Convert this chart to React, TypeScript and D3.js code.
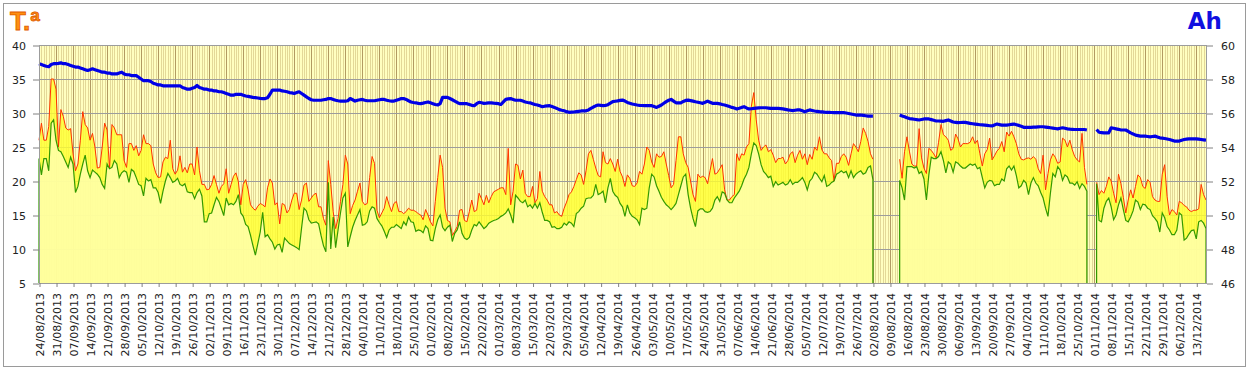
import { useEffect, useRef } from "react"
import * as d3 from "d3"

// first day of the series, one value per day after that
const startDate = "2013-08-24"

// daily maximum temperature (ºC), null = no reading
const tMax: (number | null)[] = [
  26.0, 28.5, 26.0, 26.0, 28.0, 35.0, 35.0, 33.5, 25.0, 30.5,
  29.5, 27.8, 27.5, 27.7, 24.0, 21.5, 22.5, 26.0, 30.2, 28.3,
  27.8, 26.0, 27.0, 25.0, 21.9, 22.0, 25.0, 28.5, 27.5, 21.9,
  28.3, 27.8, 26.8, 26.8, 26.8, 23.0, 22.0, 25.5, 25.5, 24.5,
  25.2, 23.7, 24.5, 26.8, 25.5, 25.5, 25.2, 22.5, 21.2, 20.5,
  20.6, 22.8, 23.5, 23.3, 26.0, 21.8, 21.0, 21.6, 23.7, 21.3,
  22.0, 21.2, 22.5, 22.5, 20.9, 25.0, 21.5, 19.5, 19.5, 18.7,
  18.8, 19.5, 20.8, 19.5, 18.2, 19.2, 19.6, 21.8, 18.2, 19.5,
  20.7, 21.2, 19.9, 16.5, 19.5, 20.2, 18.7, 16.5, 16.0, 15.7,
  16.3, 16.7, 16.5, 16.2, 19.0, 20.3, 19.7, 16.5, 16.8, 13.7,
  16.7, 16.5, 15.3, 15.8, 17.2, 18.2, 18.2, 15.8, 17.2, 19.4,
  19.7, 17.0, 17.5, 18.0, 18.2, 16.2, 16.2, 14.5, 13.5, 23.0,
  19.5, 15.5, 13.0, 14.5, 17.0, 19.5, 23.8, 22.5, 15.2, 16.4,
  17.2, 18.5, 19.7, 17.0, 16.5, 16.7, 20.5, 23.6, 22.6, 15.7,
  14.6, 15.3, 16.0, 17.7, 16.5, 15.5, 16.7, 17.0, 15.5, 15.5,
  15.2, 15.5, 16.0, 15.7, 15.7, 15.5, 15.2, 15.0, 14.3, 15.8,
  15.0, 14.0, 13.4, 17.0, 20.5, 23.8, 22.0, 16.0, 14.2, 14.0,
  12.0, 12.6, 13.3, 15.7, 15.8, 14.2, 14.0, 15.5, 17.2, 15.5,
  15.7, 18.2, 17.4, 16.5, 17.9, 16.8, 17.7, 18.4, 18.6, 18.8,
  19.0, 19.0, 18.0, 24.8, 16.5, 18.5, 22.5, 22.3, 20.3, 21.6,
  18.2, 17.7, 17.7, 19.2, 16.8, 17.4, 21.4, 18.5, 17.7, 17.2,
  16.5, 16.5, 15.3, 15.5, 15.0, 14.8, 16.0, 16.9, 18.0, 18.4,
  19.2, 20.2, 21.2, 20.9, 19.5, 21.5, 24.0, 24.5, 23.2, 21.9,
  20.8, 20.6, 24.3, 22.7, 22.5, 23.3, 22.5, 21.4, 23.2, 21.4,
  20.6, 19.2, 20.9, 20.4, 19.3, 19.2, 19.7, 21.4, 21.0, 22.5,
  25.0, 24.5, 22.8, 22.0, 24.0, 23.5, 23.6, 24.3, 22.5, 20.8,
  19.0, 19.5, 23.0, 26.5, 26.5, 24.0, 22.7, 22.0, 20.0, 18.0,
  17.0, 21.0, 20.5, 20.7, 20.5, 19.6, 21.5, 23.3, 21.0, 21.2,
  21.8, 22.4, 18.7, 17.2, 17.2, 17.7, 18.0, 24.0, 23.0, 24.0,
  23.8, 25.0, 25.5, 31.0, 33.0, 29.0, 26.0, 24.5, 25.0, 25.3,
  24.3, 24.6, 23.8, 22.7, 23.3, 23.3, 23.5, 22.5, 23.0, 24.0,
  24.3, 22.7, 23.8, 24.5, 23.2, 24.0, 22.4, 23.9, 23.2, 25.0,
  24.5, 26.5, 24.6, 24.0, 24.0, 23.4, 23.0, 20.0, 22.6, 22.6,
  23.6, 24.0, 23.5, 22.3, 24.0, 25.5, 25.0, 24.3, 25.8, 27.8,
  27.0, 25.8, 24.0, 23.2,
  null, null, null, null, null, null, null, null, null, null,
  23.2, 20.4, 24.3, 26.5, 24.4, 22.5,
  22.2, 22.2, 27.7, 23.4, 21.9, 21.1, 24.8, 24.5, 24.0, 23.4,
  25.7, 28.3, 26.8, 26.5, 26.0, 24.5, 24.8, 26.9, 26.2, 25.0,
  25.5, 25.5, 25.5, 25.7, 26.5, 25.5, 26.0, 24.0, 22.2, 24.0,
  24.6, 26.3, 23.1, 23.7, 24.4, 24.8, 25.8, 24.3, 27.2, 26.6,
  27.3, 26.5, 25.5, 24.0, 23.2, 23.1, 23.3, 23.4, 23.2, 23.6,
  23.2, 21.8, 21.1, 23.8, 18.7, 21.1, 23.1, 24.0, 23.5, 22.6,
  22.8, 26.3, 26.0, 25.0, 26.0, 24.6, 23.6, 23.1, 22.8, 27.0,
  22.0, 19.5,
  null, null, null,
  19.8, 18.0, 18.6, 18.2, 19.2,
  20.6, 20.0, 18.2, 16.8, 21.0, 19.6, 17.6, 15.3, 17.2, 18.7,
  17.5, 19.2, 20.9, 20.5, 19.2, 18.9, 20.2, 19.8, 17.7, 17.2,
  17.0, 17.0, 21.0, 22.4, 17.7, 15.0, 15.8, 15.5, 15.0, 17.0,
  16.8, 16.4, 16.2, 15.7, 15.5, 15.7, 15.7, 15.9, 19.5, 18.0,
  17.2,
]

// daily minimum temperature (ºC)
const tMin: (number | null)[] = [
  23.3, 20.9, 23.3, 23.3, 21.5, 28.5, 29.0, 26.0, 24.5, 24.3,
  23.6, 22.8, 22.0, 23.5, 22.5, 18.3, 19.2, 21.0, 22.5, 23.8,
  21.5, 20.5, 21.6, 21.3, 21.0, 20.5, 19.5, 18.9, 22.5, 21.8,
  22.0, 23.0, 22.5, 20.5, 21.2, 21.5, 21.3, 19.8, 21.7, 21.4,
  20.5, 19.5, 19.3, 17.8, 20.4, 20.0, 20.2, 19.0, 19.0, 18.3,
  16.7, 18.5, 20.0, 21.1, 20.5, 19.8, 20.0, 20.4, 19.5, 19.3,
  19.6, 18.4, 18.3, 18.3, 17.4, 18.3, 18.8, 17.8, 14.0, 14.0,
  15.2, 15.3, 16.5, 17.6, 17.0, 16.0, 14.9, 17.5, 16.5, 16.7,
  16.5, 17.0, 18.0, 15.3, 14.8, 13.6, 13.3, 12.0, 10.5, 9.1,
  10.8, 12.5, 15.4, 11.8, 12.1, 11.5, 11.0, 10.0, 10.6, 10.7,
  9.5, 11.6, 11.2, 10.8, 10.6, 10.4, 10.2, 9.9, 13.1, 16.0,
  15.6, 14.3, 13.8, 13.9, 14.0, 13.7, 12.0, 10.5, 9.6, 19.8,
  10.0, 14.7, 10.2, 12.8, 15.3, 17.5, 18.2, 10.3, 11.8, 13.2,
  14.2, 15.0, 15.8, 13.5, 13.6, 14.0, 15.6, 16.2, 16.0, 14.5,
  13.9, 13.4, 12.6, 11.7, 12.8, 13.2, 13.2, 13.6, 13.3, 13.0,
  14.0, 13.5, 14.7, 14.0, 13.9, 12.6, 12.8, 12.7, 12.4, 13.4,
  13.0, 11.3, 11.2, 13.0, 14.3, 15.0, 13.2, 12.7, 13.2, 13.5,
  11.1, 12.3, 12.8, 14.0, 12.3, 11.6, 11.4, 11.7, 12.8, 13.6,
  13.4, 14.0, 13.5, 13.0, 13.3, 13.8, 14.0, 14.2, 14.3, 14.5,
  14.8, 15.0, 15.3, 15.9, 15.0, 13.8, 17.9, 17.5, 17.0, 16.8,
  17.2, 16.2, 16.5, 16.0, 16.7, 16.0, 16.8, 15.4, 14.2, 14.2,
  14.0, 13.2, 13.3, 13.0, 13.0, 13.2, 13.8, 13.5, 14.0, 13.8,
  13.3, 15.2, 15.5, 16.0, 16.3, 17.4, 17.5, 17.5, 17.9, 19.5,
  18.0, 18.2, 18.5, 16.8, 19.0, 20.4, 18.5, 17.9, 17.6, 16.7,
  16.2, 14.8, 16.5, 15.3, 14.8, 14.6, 14.3, 13.6, 16.0, 15.8,
  16.0, 19.0, 21.0, 20.6, 19.3, 18.5, 17.6, 17.0, 16.5, 16.2,
  15.8, 16.2, 16.7, 18.0, 19.3, 20.6, 21.0, 18.0, 16.0, 14.5,
  13.3, 15.6, 15.9, 15.9, 15.5, 15.4, 15.5, 16.0, 17.2, 17.7,
  17.0, 18.4, 18.2, 17.2, 16.8, 16.8, 17.5, 18.0, 18.5, 19.3,
  20.3, 21.0, 22.0, 24.0, 25.6, 25.2, 24.0, 22.4, 21.4, 21.0,
  20.5, 20.7, 19.2, 19.9, 19.4, 19.6, 19.8, 19.4, 19.6, 20.2,
  19.5, 19.8, 19.8, 20.1, 20.5, 19.8, 18.7, 20.0, 20.4, 21.3,
  21.0, 20.4, 19.9, 20.8, 19.2, 19.4, 19.8, 20.0, 21.0, 21.2,
  21.5, 21.2, 21.4, 20.5, 21.5, 20.5, 21.0, 21.3, 21.5, 21.0,
  21.2, 22.0, 22.2, 20.2,
  null, null, null, null, null, null, null, null, null, null,
  20.1, 19.0, 17.2, 22.1, 22.1, 22.1,
  21.9, 22.1, 21.1, 21.4, 20.3, 17.2, 20.9, 23.5, 23.3, 23.3,
  23.6, 24.3, 23.0, 21.2, 22.8, 22.5, 21.3, 22.8, 22.6, 22.2,
  21.9, 21.9, 22.2, 22.5, 22.3, 22.5, 21.8, 22.0, 20.5, 19.0,
  19.8, 20.1, 20.0, 19.3, 19.5, 19.5, 20.3, 20.0, 21.8, 22.2,
  21.6, 22.2, 20.8, 19.0, 19.3, 20.1, 19.7, 18.0, 19.7, 20.5,
  19.7, 19.3, 18.3, 17.5, 16.0, 14.8, 18.2, 21.1, 20.6, 22.1,
  21.6, 20.1, 20.9, 20.6, 19.7, 19.7, 19.4, 19.9, 18.9, 19.6,
  19.2, 18.5,
  null, null, null,
  19.6, 14.2, 14.0, 16.0, 17.0,
  17.5, 16.2, 14.3, 15.0, 16.5, 17.5, 15.8, 14.2, 14.0, 14.7,
  15.6, 17.2, 16.9, 15.8, 16.6, 16.5, 16.0, 15.8, 14.9, 14.5,
  14.0, 12.5, 15.3, 14.6, 13.3, 12.8, 12.1, 12.1, 12.8, 15.3,
  15.0, 11.3, 11.6, 12.2, 12.7, 12.8, 11.5, 14.0, 14.2, 13.8,
  13.0,
]

// daily Ah reading (right axis)
const ah: (number | null)[] = [
  58.90, 58.85, 58.80, 58.75, 58.72, 58.85, 58.90, 58.90, 58.92, 58.95,
  58.90, 58.90, 58.85, 58.80, 58.75, 58.70, 58.70, 58.65, 58.60, 58.55,
  58.50, 58.55, 58.60, 58.55, 58.50, 58.45, 58.40, 58.40, 58.35, 58.35,
  58.30, 58.30, 58.30, 58.35, 58.40, 58.30, 58.25, 58.25, 58.20, 58.20,
  58.20, 58.10, 58.00, 57.90, 57.90, 57.90, 57.85, 57.75, 57.70, 57.65,
  57.65, 57.60, 57.60, 57.60, 57.60, 57.60, 57.60, 57.60, 57.60, 57.50,
  57.45, 57.40, 57.40, 57.45, 57.50, 57.62, 57.50, 57.45, 57.40, 57.40,
  57.35, 57.35, 57.30, 57.30, 57.25, 57.25, 57.20, 57.15, 57.10, 57.05,
  57.05, 57.10, 57.10, 57.10, 57.05, 57.00, 56.98, 56.95, 56.92, 56.90,
  56.88, 56.86, 56.85, 56.85, 56.90, 57.10, 57.35, 57.35, 57.35, 57.35,
  57.30, 57.28, 57.25, 57.20, 57.18, 57.15, 57.20, 57.25, 57.15, 57.05,
  56.95, 56.85, 56.78, 56.75, 56.75, 56.75, 56.75, 56.78, 56.80, 56.85,
  56.85, 56.80, 56.75, 56.72, 56.70, 56.70, 56.70, 56.72, 56.85, 56.78,
  56.70, 56.75, 56.78, 56.80, 56.75, 56.72, 56.72, 56.72, 56.72, 56.75,
  56.78, 56.80, 56.80, 56.75, 56.72, 56.70, 56.70, 56.75, 56.80, 56.85,
  56.85, 56.80, 56.72, 56.65, 56.62, 56.60, 56.57, 56.55, 56.58, 56.62,
  56.65, 56.60, 56.55, 56.50, 56.47, 56.55, 56.92, 56.92, 56.92, 56.85,
  56.78, 56.70, 56.62, 56.55, 56.55, 56.55, 56.55, 56.50, 56.45, 56.43,
  56.55, 56.63, 56.60, 56.57, 56.58, 56.60, 56.60, 56.58, 56.57, 56.55,
  56.50, 56.65, 56.80, 56.83, 56.85, 56.80, 56.75, 56.75, 56.75, 56.70,
  56.65, 56.62, 56.60, 56.55, 56.50, 56.47, 56.42, 56.37, 56.40, 56.42,
  56.43, 56.38, 56.33, 56.27, 56.20, 56.16, 56.13, 56.08, 56.04, 56.05,
  56.06, 56.08, 56.10, 56.12, 56.12, 56.13, 56.18, 56.27, 56.35, 56.42,
  56.47, 56.45, 56.43, 56.45, 56.49, 56.58, 56.67, 56.69, 56.71, 56.74,
  56.76, 56.70, 56.62, 56.57, 56.53, 56.50, 56.47, 56.45, 56.44, 56.43,
  56.43, 56.43, 56.43, 56.38, 56.33, 56.40, 56.47, 56.57, 56.67, 56.75,
  56.80, 56.70, 56.60, 56.60, 56.60, 56.68, 56.74, 56.76, 56.73, 56.70,
  56.66, 56.63, 56.60, 56.57, 56.63, 56.70, 56.63, 56.57, 56.57, 56.57,
  56.54, 56.50, 56.47, 56.43, 56.38, 56.33, 56.29, 56.24, 56.28, 56.33,
  56.37, 56.30, 56.24, 56.25, 56.27, 56.29, 56.30, 56.31, 56.31, 56.31,
  56.29, 56.27, 56.27, 56.27, 56.27, 56.26, 56.24, 56.21, 56.18, 56.16,
  56.14, 56.16, 56.18, 56.18, 56.13, 56.08, 56.13, 56.18, 56.15, 56.12,
  56.10, 56.08, 56.07, 56.05, 56.04, 56.04, 56.03, 56.02, 56.03, 56.02,
  56.02, 56.02, 56.00, 55.97, 55.94, 55.91, 55.88, 55.88, 55.88, 55.86,
  55.84, 55.82, 55.82, 55.82,
  null, null, null, null, null, null, null, null, null, null,
  55.88, 55.83, 55.78, 55.72, 55.67, 55.65,
  55.63, 55.61, 55.59, 55.62, 55.65, 55.65, 55.65, 55.61, 55.57, 55.53,
  55.53, 55.52, 55.51, 55.55, 55.59, 55.53, 55.47, 55.45, 55.43, 55.44,
  55.45, 55.45, 55.42, 55.39, 55.37, 55.35, 55.33, 55.31, 55.30, 55.29,
  55.27, 55.25, 55.24, 55.30, 55.35, 55.32, 55.29, 55.29, 55.29, 55.31,
  55.33, 55.35, 55.31, 55.27, 55.22, 55.16, 55.15, 55.15, 55.16, 55.17,
  55.17, 55.18, 55.19, 55.19, 55.17, 55.15, 55.13, 55.11, 55.09, 55.07,
  55.10, 55.13, 55.10, 55.07, 55.05, 55.04, 55.03, 55.03, 55.03, 55.03,
  55.03, 55.00,
  null, null, null,
  55.03, 54.87, 54.85, 54.83, 54.83,
  54.83, 55.13, 55.10, 55.07, 55.04, 55.00, 55.00, 55.00, 54.92, 54.83,
  54.77, 54.70, 54.67, 54.64, 54.64, 54.64, 54.62, 54.60, 54.62, 54.64,
  54.59, 54.54, 54.52, 54.50, 54.47, 54.44, 54.40, 54.35, 54.35, 54.35,
  54.40, 54.44, 54.46, 54.48, 54.48, 54.48, 54.48, 54.46, 54.44, 54.42,
  54.40,
]

const tempTicks = [5, 10, 15, 20, 25, 30, 35, 40]
const ahTicks = [46, 48, 50, 52, 54, 56, 58, 60]

export default function App() {
  const svgRef = useRef<SVGSVGElement>(null)

  useEffect(() => {
    if (!svgRef.current) return
    const svg = d3.select(svgRef.current)
    svg.selectAll("*").remove()

    const left = 39, right = 1206, top = 45, bottom = 283

    const start = d3.utcParse("%Y-%m-%d")(startDate) as Date
    const rows = tMax.map((hi, i) => ({ date: d3.utcDay.offset(start, i), hi, lo: tMin[i], ah: ah[i] }))
    const last = rows[rows.length - 1].date

    const x = d3.scaleUtc().domain([start, last]).range([left, right])
    const y = d3.scaleLinear().domain([5, 40]).range([bottom, top])
    const y2 = d3.scaleLinear().domain([46, 60]).range([bottom, top])
    const weeks = d3.utcDay.range(start, d3.utcDay.offset(last, 1), 7)
    const crisp = (v: number) => Math.round(v) + 0.5

    // outer frame
    svg.append("rect")
      .attr("x", 3.5).attr("y", 3.5).attr("width", 1242).attr("height", 363)
      .attr("fill", "#fff").attr("stroke", "#9a9a9a")

    // plot background + daily / weekly grid
    svg.append("rect")
      .attr("x", left).attr("y", top).attr("width", right - left).attr("height", bottom - top)
      .attr("fill", "#ffffc0")

    svg.append("g").selectAll("line").data(rows).join("line")
      .attr("x1", (d) => crisp(x(d.date))).attr("x2", (d) => crisp(x(d.date)))
      .attr("y1", top).attr("y2", bottom)
      .attr("stroke", "#e3d898").attr("stroke-width", 1)

    svg.append("g").selectAll("line").data(weeks).join("line")
      .attr("x1", (d) => crisp(x(d))).attr("x2", (d) => crisp(x(d)))
      .attr("y1", top).attr("y2", bottom)
      .attr("stroke", "#b29a62").attr("stroke-width", 1)

    svg.append("g").selectAll("line").data(tempTicks).join("line")
      .attr("x1", left).attr("x2", right)
      .attr("y1", (d) => crisp(y(d))).attr("y2", (d) => crisp(y(d)))
      .attr("stroke", "#9c9c9c").attr("stroke-width", 1)

    // filled bands: under max (bright yellow), under min (pale)
    const hiArea = d3.area<any>().defined((d) => d.hi != null)
      .x((d) => x(d.date)).y0(bottom).y1((d) => y(d.hi))
    const loArea = d3.area<any>().defined((d) => d.lo != null)
      .x((d) => x(d.date)).y0(bottom).y1((d) => y(d.lo))

    svg.append("path").datum(rows).attr("d", hiArea)
      .attr("fill", "#ffff30").attr("fill-opacity", 0.82)
    svg.append("path").datum(rows).attr("d", loArea)
      .attr("fill", "#ffffb0").attr("fill-opacity", 0.82)

    // max line
    const hiLine = d3.line<any>().defined((d) => d.hi != null)
      .x((d) => x(d.date)).y((d) => y(d.hi))
    svg.append("path").datum(rows).attr("d", hiLine)
      .attr("fill", "none").attr("stroke", "#ff3300").attr("stroke-width", 1)

    // min line, dropping to the baseline at the ends of every run of readings
    const runs: any[][] = []
    let cur: any[] = []
    rows.forEach((r) => {
      if (r.lo == null) { if (cur.length) runs.push(cur); cur = [] }
      else cur.push(r)
    })
    if (cur.length) runs.push(cur)
    const loLine = d3.line<any>().x((d) => x(d.date)).y((d) => y(d.lo))
    runs.forEach((run) => {
      const pts = [{ date: run[0].date, lo: 5 }, ...run, { date: run[run.length - 1].date, lo: 5 }]
      svg.append("path").datum(pts).attr("d", loLine)
        .attr("fill", "none").attr("stroke", "#339900").attr("stroke-width", 1.2)
    })

    // Ah line
    const ahLine = d3.line<any>().defined((d) => d.ah != null)
      .x((d) => x(d.date)).y((d) => y2(d.ah))
    svg.append("path").datum(rows).attr("d", ahLine)
      .attr("fill", "none").attr("stroke", "#0000e6").attr("stroke-width", 3.2)
      .attr("stroke-linejoin", "round")

    // plot border
    svg.append("rect")
      .attr("x", left + 0.5).attr("y", top + 0.5).attr("width", right - left).attr("height", bottom - top)
      .attr("fill", "none").attr("stroke", "#9c9c9c")

    // axes
    const font = "'DejaVu Sans', Verdana, sans-serif"
    const gx = svg.append("g").attr("transform", `translate(0.5,${bottom})`)
      .call(d3.axisBottom(x).tickValues(weeks).tickSize(4).tickFormat((d) => d3.utcFormat("%d/%m/%Y")(d as Date)))
    gx.select(".domain").remove()
    gx.selectAll("line").attr("stroke", "#808080")
    gx.selectAll("text")
      .attr("transform", "rotate(-90)").attr("x", -10).attr("y", 0).attr("dy", "0.35em")
      .style("text-anchor", "end")
    gx.attr("font-family", font).attr("font-size", 11)
    gx.selectAll("text").attr("fill", "#222")

    const gl = svg.append("g").attr("transform", `translate(${left},0.5)`)
      .call(d3.axisLeft(y).tickValues(tempTicks).tickSize(6).tickPadding(7))
    gl.select(".domain").remove()
    gl.selectAll("line").attr("stroke", "#808080")
    gl.attr("font-family", font).attr("font-size", 11)
    gl.selectAll("text").attr("fill", "#222")

    const gr = svg.append("g").attr("transform", `translate(${right + 1},0.5)`)
      .call(d3.axisRight(y2).tickValues(ahTicks).tickSize(6).tickPadding(8))
    gr.select(".domain").remove()
    gr.selectAll("line").attr("stroke", "#808080")
    gr.attr("font-family", font).attr("font-size", 11)
    gr.selectAll("text").attr("fill", "#222")

    // titles
    svg.append("text")
      .attr("x", 10).attr("y", 29.5)
      .attr("font-family", "'Liberation Sans', Arial, sans-serif")
      .attr("font-weight", "bold").attr("font-size", 26)
      .attr("fill", "#ff9010").attr("stroke", "#e05a00").attr("stroke-width", 0.8)
      .text("T.ª")

    svg.append("text")
      .attr("x", 1222).attr("y", 28.5).attr("text-anchor", "end")
      .attr("font-family", font)
      .attr("font-weight", "bold").attr("font-size", 23)
      .attr("fill", "#1010e0")
      .text("Ah")
  }, [])

  return (
    <svg
      ref={svgRef}
      width={1249}
      height={371}
      style={{ position: "absolute", left: 0, top: 0, display: "block" }}
    />
  )
}
